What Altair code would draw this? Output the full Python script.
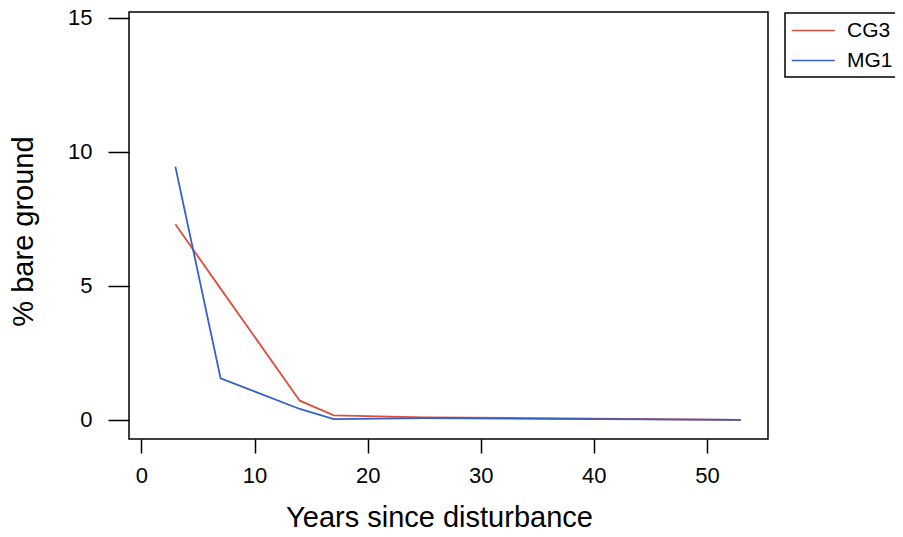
import altair as alt
import pandas as pd

# Data
years = [3, 7, 14, 17, 25, 53]
cg3 = [7.3, 4.9, 0.72, 0.17, 0.10, 0.0]
mg1 = [9.45, 1.55, 0.41, 0.03, 0.07, 0.0]
series_names = ["CG3", "MG1"]
series_colors = ["#DD4E3E", "#3461C6"]
x_ticks = [0, 10, 20, 30, 40, 50]
y_ticks = [0, 5, 10, 15]

rows = []
for name, vals in zip(series_names, [cg3, mg1]):
    for i, (x, y) in enumerate(zip(years, vals)):
        rows.append({"site": name, "year": x, "bare": y, "order": i})
df = pd.DataFrame(rows)

FONT = "Liberation Sans"

chart = (
    alt.Chart(df)
    .mark_line(strokeWidth=1.8)
    .encode(
        x=alt.X(
            "year:Q",
            scale=alt.Scale(domain=[-1.1, 55.4], nice=False, zero=False),
            axis=alt.Axis(
                values=x_ticks,
                title="Years since disturbance",
                tickSize=14,
                tickWidth=1.5,
                tickColor="black",
                domain=False,
                grid=False,
                labelFontSize=22,
                labelPadding=12,
                labelColor="black",
                labelFont=FONT,
                titleFont=FONT,
                titleFontSize=29,
                titleFontWeight="normal",
                titleColor="black",
                titleX=310,
                titleY=87,
                titleBaseline="alphabetic",
                titleAlign="center",
            ),
        ),
        y=alt.Y(
            "bare:Q",
            scale=alt.Scale(domain=[-0.71, 15.22], nice=False, zero=False),
            axis=alt.Axis(
                values=y_ticks,
                title="% bare ground",
                tickSize=21,
                tickWidth=1.5,
                tickColor="black",
                domain=False,
                grid=False,
                labelFontSize=22,
                labelPadding=16,
                labelColor="black",
                labelFont=FONT,
                titleFont=FONT,
                titleFontSize=29,
                titleFontWeight="normal",
                titleColor="black",
                titleX=-97,
                titleY=219,
                titleAngle=270,
                titleBaseline="alphabetic",
                titleAlign="center",
            ),
        ),
        color=alt.Color(
            "site:N",
            scale=alt.Scale(domain=series_names, range=series_colors),
            legend=alt.Legend(
                title=None,
                orient="none",
                legendX=656,
                legendY=1,
                symbolType="M-1,0H3",
                symbolSize=462,
                symbolStrokeWidth=1.5,
                labelOffset=33,
                labelFontSize=21,
                labelFont=FONT,
                labelColor="black",
                padding=6,
                rowPadding=8,
                strokeColor="black",
            ),
        ),
        order="order:Q",
    )
    .properties(
        width=639,
        height=427,
        background="white",
        autosize=alt.AutoSizeParams(type="none"),
        padding={"left": 121, "top": 4, "right": 127, "bottom": 92},
    )
    .configure_view(stroke="black", strokeWidth=1.5)
    .configure_legend(strokeWidth=1.5)
)

chart.save("out.html", embed_options={"renderer": "svg", "actions": False})
